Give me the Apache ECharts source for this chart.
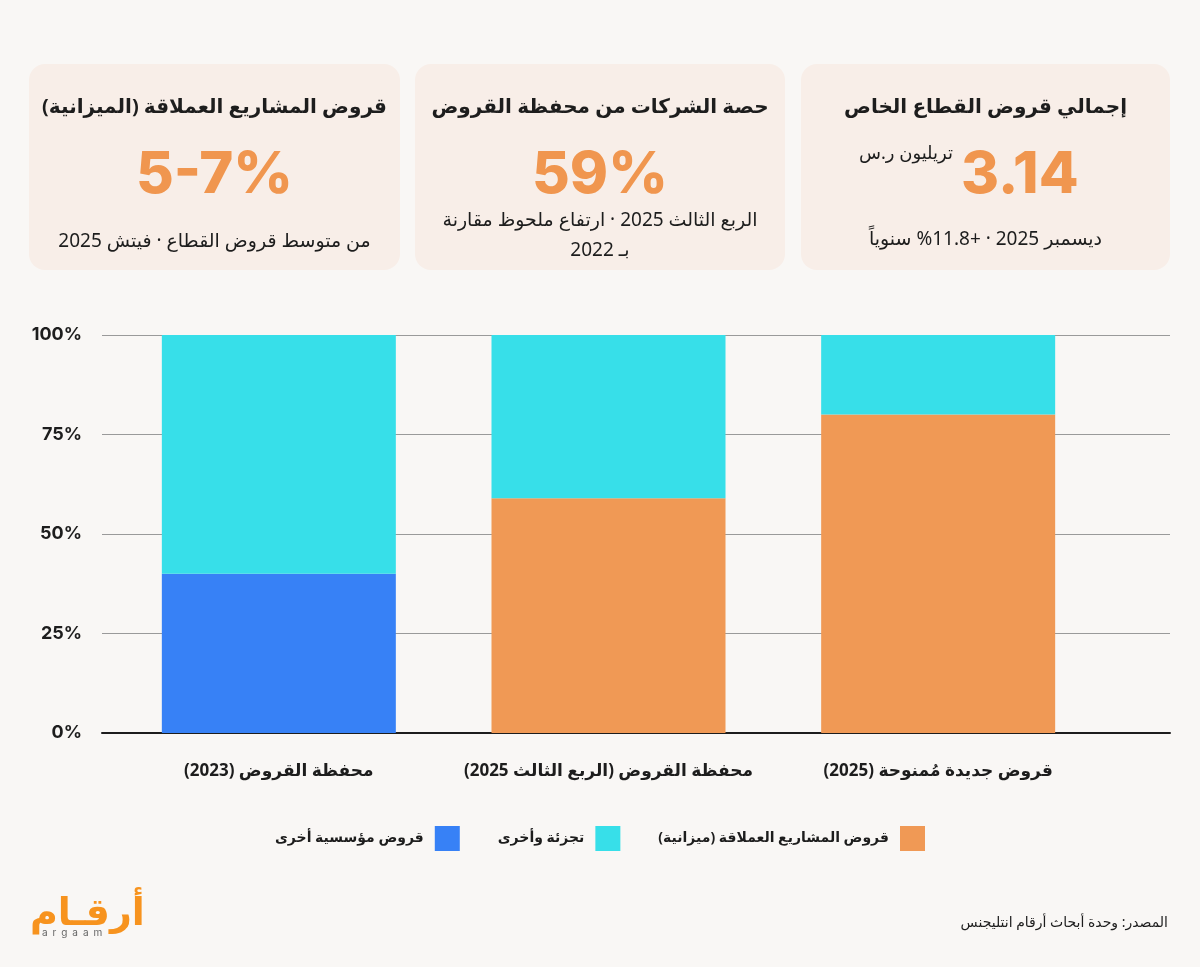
<!DOCTYPE html>
<html>
<head>
<meta charset="utf-8">
<script src="https://cdn.jsdelivr.net/npm/echarts@6/dist/echarts.min.js"></script>
<style>
  html, body { margin: 0; padding: 0; background: #f9f7f5; }
  body { width: 1200px; height: 967px; position: relative; overflow: hidden;
         font-family: "Noto Sans", "DejaVu Sans", sans-serif; color: #1d1d1d; }
  #chart { position: absolute; left: 0; top: 0; width: 1200px; height: 967px; }
  .card { position: absolute; top: 64px; height: 206px; background: #f8eee8;
          border-radius: 16px; direction: rtl; text-align: center; }
  .card .t { position: absolute; left: 0; right: 0; top: 92px; font-size: 20px; font-weight: 700; }
  .card .n { position: absolute; left: 0; right: 0; top: 137px; font-family: "Inter", "Lato", sans-serif;
             font-size: 58px; font-weight: 800; color: #f0964f; line-height: 70px; direction: ltr; }
  .card .s { position: absolute; left: 6px; right: 6px; font-size: 19px; line-height: 30px; }
  .card > div { margin-top: -64px; }
  .logo { position: absolute; left: 30px; top: 890px; color: #f7931e; font-weight: 800;
          font-size: 38px; line-height: 40px; direction: rtl; }
  .logo small { display: block; font-size: 10px; letter-spacing: 5px; color: #666; font-weight: 400;
                line-height: 12px; margin-top: -4px; padding-left: 12px; direction: ltr; font-family: "Inter", sans-serif; }
  .src { position: absolute; right: 32px; top: 912px; font-size: 14px; direction: rtl; }
</style>
</head>
<body>
<div id="chart"></div>

<div class="card" style="left:801px; width:369px;">
  <div class="t">إجمالي قروض القطاع الخاص</div>
  <div class="n" style="left:160px; right:auto;">3.14</div>
  <div style="position:absolute; left:58px; top:140px; font-size:18px;">تريليون ر.س</div>
  <div class="s" style="top:223px;">ديسمبر 2025 · +11.8% سنوياً</div>
</div>

<div class="card" style="left:415px; width:370px;">
  <div class="t">حصة الشركات من محفظة القروض</div>
  <div class="n">59%</div>
  <div class="s" style="top:204px;">الربع الثالث 2025 · ارتفاع ملحوظ مقارنة<br>بـ 2022</div>
</div>

<div class="card" style="left:29px; width:371px;">
  <div class="t">قروض المشاريع العملاقة (الميزانية)</div>
  <div class="n">5-7%</div>
  <div class="s" style="top:225px;">من متوسط قروض القطاع · فيتش 2025</div>
</div>

<div class="logo">أرقـام<small>argaam</small></div>
<div class="src">المصدر: وحدة أبحاث أرقام انتليجنس</div>

<script>
  // categories, left to right as in the picture
  var categories = ['محفظة القروض (2023)', 'محفظة القروض (الربع الثالث 2025)', 'قروض جديدة مُمنوحة (2025)'];
  var yTicks = [0, 25, 50, 75, 100];

  // shares in percent
  var megaProjects = [null, 59, 80];
  var retailOther = [60, 41, 20];
  var otherCorporate = [40, null, null];

  var names = {
    mega: 'قروض المشاريع العملاقة (ميزانية)',
    retail: 'تجزئة وأخرى',
    corp: 'قروض مؤسسية أخرى'
  };
  var colors = { mega: '#f09955', retail: '#37dfe9', corp: '#3781f6' };

  var myChart = echarts.init(document.getElementById('chart'), null, { renderer: 'canvas' });

  var option = {
    animation: false,
    textStyle: { fontFamily: '"Noto Sans", "DejaVu Sans", sans-serif' },
    legend: {
      data: [names.corp, names.retail, names.mega],
      left: 'center',
      top: 821,
      align: 'right',
      itemWidth: 25,
      itemHeight: 25,
      itemGap: 38,
      icon: 'rect',
      textStyle: { fontSize: 14, fontWeight: 'bold', color: '#1d1d1d', padding: [0, 6, 0, 0] }
    },
    grid: [
      { left: 102, right: 30, top: 335, bottom: 234 },
      { left: 114, right: 97, top: 335, bottom: 234 }
    ],
    xAxis: [
      {
        gridIndex: 0, type: 'category', data: categories,
        axisLine: { show: true, lineStyle: { color: '#1d1d1d', width: 2 } },
        axisTick: { show: false }, axisLabel: { show: false }
      },
      {
        gridIndex: 1, type: 'category', data: categories,
        axisLine: { show: false }, axisTick: { show: false },
        axisLabel: { interval: 0, margin: 30, fontSize: 17, fontWeight: 'bold', color: '#1d1d1d' }
      }
    ],
    yAxis: [
      {
        gridIndex: 0, type: 'value', min: yTicks[0], max: yTicks[yTicks.length - 1], interval: 25,
        axisLine: { show: false }, axisTick: { show: false },
        splitLine: { lineStyle: { color: '#9a9a9a', width: 1 } },
        axisLabel: {
          formatter: '{value}%', margin: 20, fontSize: 18, fontWeight: 'bold', color: '#1d1d1d',
          fontFamily: 'Inter, sans-serif', padding: [0, 0, 10, 0]
        }
      },
      {
        gridIndex: 1, type: 'value', min: 0, max: 100, show: false
      }
    ],
    series: [
      {
        name: names.corp, type: 'bar', stack: 'share', xAxisIndex: 1, yAxisIndex: 1,
        data: otherCorporate, barWidth: 234, itemStyle: { color: colors.corp }
      },
      {
        name: names.mega, type: 'bar', stack: 'share', xAxisIndex: 1, yAxisIndex: 1,
        data: megaProjects, barWidth: 234, itemStyle: { color: colors.mega }
      },
      {
        name: names.retail, type: 'bar', stack: 'share', xAxisIndex: 1, yAxisIndex: 1,
        data: retailOther, barWidth: 234, itemStyle: { color: colors.retail }
      }
    ]
  };

  myChart.setOption(option);
  window.addEventListener('resize', myChart.resize);
</script>
</body>
</html>
